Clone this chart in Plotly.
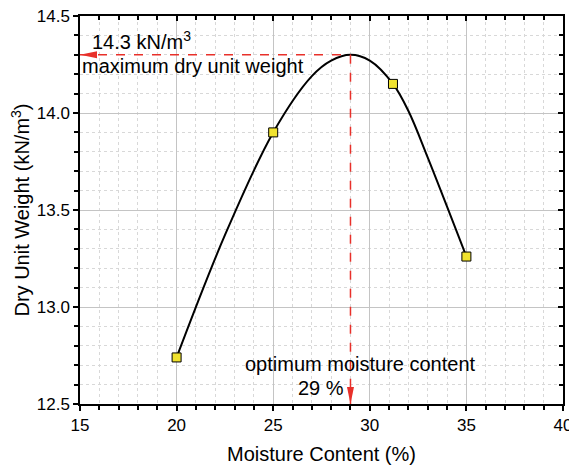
import plotly.graph_objects as go

# measured points
moisture = [20, 25, 31.2, 35]
dry_weight = [12.74, 13.90, 14.15, 13.26]

# fitted curve
curve_x = [20, 22.5, 25, 27, 28, 29, 30, 31.2, 32, 33, 35]
curve_y = [12.74, 13.37, 13.90, 14.19, 14.27, 14.30, 14.27, 14.15, 14.01, 13.77, 13.26]

opt_moisture = 29
max_weight = 14.3
x_range = [15, 40]
y_range = [12.5, 14.5]
x_ticks = [15, 20, 25, 30, 35, 40]
y_ticks = [12.5, 13.0, 13.5, 14.0, 14.5]

FONT = "Arial, Liberation Sans, sans-serif"
RED = "#e8302a"

fig = go.Figure()
fig.add_trace(go.Scatter(x=curve_x, y=curve_y, mode="lines",
                         line=dict(color="black", width=2, shape="spline", smoothing=1.0),
                         hoverinfo="skip", showlegend=False))
fig.add_trace(go.Scatter(x=moisture, y=dry_weight, mode="markers",
                         marker=dict(symbol="square", size=9, color="#f0e22e",
                                     line=dict(color="black", width=1)),
                         showlegend=False))

# dashed guide lines
fig.add_shape(type="line", x0=x_range[0], x1=opt_moisture, y0=max_weight, y1=max_weight,
              line=dict(color=RED, width=1.5, dash="dash"))
fig.add_shape(type="line", x0=opt_moisture, x1=opt_moisture, y0=max_weight, y1=y_range[0],
              line=dict(color=RED, width=1.5, dash="dash"))
# arrowheads
fig.add_shape(type="path", xsizemode="pixel", ysizemode="pixel",
              xanchor=x_range[0], yanchor=max_weight,
              path="M0,0 L17,3.5 L17,-3.5 Z", fillcolor=RED, line=dict(width=0))
fig.add_shape(type="path", xsizemode="pixel", ysizemode="pixel",
              xanchor=opt_moisture, yanchor=y_range[0],
              path="M0,0 L3.5,17 L-3.5,17 Z", fillcolor=RED, line=dict(width=0))

ann_font = dict(family=FONT, size=20, color="black")
fig.add_annotation(x=x_range[0], y=max_weight, xanchor="left", yanchor="middle",
                   xshift=10, yshift=14, text="14.3 kN/m<sup>3</sup>", showarrow=False, font=ann_font)
fig.add_annotation(x=x_range[0], y=max_weight, xanchor="left", yanchor="middle",
                   xshift=0, yshift=-11, text="maximum dry unit weight", showarrow=False, font=ann_font)
fig.add_annotation(x=opt_moisture, y=y_range[0], xanchor="center", yanchor="middle",
                   xshift=10, yshift=40, text="optimum moisture content", showarrow=False, font=ann_font)
fig.add_annotation(x=opt_moisture, y=y_range[0], xanchor="right", yanchor="middle",
                   xshift=-4, yshift=16, text="29 %", showarrow=False, font=ann_font)

axis_common = dict(showline=True, linecolor="black", linewidth=1.5, automargin=False,
                   gridcolor="#c4c4c4", gridwidth=1, zeroline=False, ticklabeloverflow="allow",
                   ticks="outside", ticklen=5, tickwidth=1.5, tickcolor="black",
                   tickfont=dict(family=FONT, size=17, color="black"))

fig.update_xaxes(range=x_range, tickvals=x_ticks, **axis_common,
                 title=dict(text="Moisture Content (%)", font=dict(family=FONT, size=20, color="black"),
                            standoff=13),
                 minor=dict(dtick=1, showgrid=True, gridcolor="#d8d8d8", griddash="dot",
                            ticks="outside", ticklen=4, tickwidth=1.5, tickcolor="black"))
fig.update_yaxes(range=y_range, tickvals=y_ticks, tickformat=".1f", **axis_common,
                 title=dict(text="Dry Unit Weight (kN/m<sup>3</sup>)",
                            font=dict(family=FONT, size=20, color="black"), standoff=9),
                 minor=dict(dtick=0.1, showgrid=True, gridcolor="#d8d8d8", griddash="dot",
                            ticks="outside", ticklen=4, tickwidth=1.5, tickcolor="black"))

# mirrored axes with inward ticks (top and right)
fig.update_layout(
    xaxis2=dict(overlaying="x", side="top", matches="x", range=x_range, tickvals=x_ticks,
                showticklabels=False, showgrid=False, showline=True, linecolor="black", linewidth=1.5,
                ticks="inside", ticklen=5, tickwidth=1.5, tickcolor="black", zeroline=False, automargin=False,
                minor=dict(dtick=1, ticks="inside", ticklen=4, tickwidth=1.5, tickcolor="black", showgrid=False)),
    yaxis2=dict(overlaying="y", side="right", matches="y", range=y_range, tickvals=y_ticks,
                showticklabels=False, showgrid=False, showline=True, linecolor="black", linewidth=1.5,
                ticks="inside", ticklen=5, tickwidth=1.5, tickcolor="black", zeroline=False, automargin=False,
                minor=dict(dtick=0.1, ticks="inside", ticklen=4, tickwidth=1.5, tickcolor="black", showgrid=False)),
)
fig.add_trace(go.Scatter(x=[x_range[0]], y=[y_range[0]], xaxis="x2", yaxis="y2",
                         mode="markers", marker=dict(opacity=0), hoverinfo="skip", showlegend=False))

# page adds an 8px body margin, so the figure is sized to fit the window
fig.update_layout(width=569, height=460, margin=dict(l=72, r=14, t=8, b=64),
                  plot_bgcolor="white", paper_bgcolor="white",
                  font=dict(family=FONT, color="black"))
fig.write_html("out.html")
